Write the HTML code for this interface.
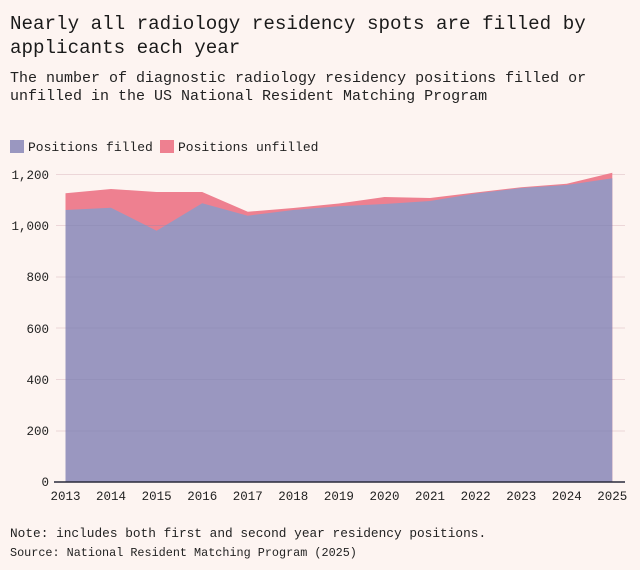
<!DOCTYPE html>
<html><head><style>
body{margin:0;background:#fdf4f1;font-family:"Liberation Mono",monospace;color:#222;}
</style></head><body>
<svg width="640" height="570" xmlns="http://www.w3.org/2000/svg" style="display:block">
<rect width="640" height="570" fill="#fdf4f1"/>
<text x="10" y="29" font-size="19.2" font-family="Liberation Mono,monospace" fill="#1a1a1a">Nearly all radiology residency spots are filled by</text>
<text x="10" y="53" font-size="19.2" font-family="Liberation Mono,monospace" fill="#1a1a1a">applicants each year</text>
<text x="10" y="82" font-size="15" font-family="Liberation Mono,monospace" fill="#222">The number of diagnostic radiology residency positions filled or</text>
<text x="10" y="100" font-size="15" font-family="Liberation Mono,monospace" fill="#222">unfilled in the US National Resident Matching Program</text>
<rect x="10" y="140" width="14" height="13" fill="#9a97c0"/>
<text x="28" y="151" font-size="13" font-family="Liberation Mono,monospace" fill="#222">Positions filled</text>
<rect x="160" y="140" width="14" height="13" fill="#ee8090"/>
<text x="178" y="151" font-size="13" font-family="Liberation Mono,monospace" fill="#222">Positions unfilled</text>
<g stroke="#ecd6d8" stroke-width="1">
<line x1="56" x2="625" y1="174.5" y2="174.5"/>
<line x1="56" x2="625" y1="225.5" y2="225.5"/>
<line x1="56" x2="625" y1="277" y2="277"/>
<line x1="56" x2="625" y1="328" y2="328"/>
<line x1="56" x2="625" y1="379.5" y2="379.5"/>
<line x1="56" x2="625" y1="431" y2="431"/>
</g>
<polygon fill="#ee8090" points="65.5,193.3 111,189 156.6,192 202.2,192 247.8,211.7 293.3,208 338.9,203.5 384.5,197 430,198 475.6,192.5 521.2,187.2 566.8,183.8 612.3,172.7 612.3,482 65.5,482"/>
<polygon fill="#9a97c0" points="65.5,210 111,207.7 156.6,230.7 202.2,203.3 247.8,215.7 293.3,210 338.9,206.3 384.5,204 430,201 475.6,193.5 521.2,188 566.8,185 612.3,178.3 612.3,482 65.5,482"/>
<g stroke="#8a86b0" stroke-opacity="0.35" stroke-width="1">
<line x1="65.5" x2="612.3" y1="225.5" y2="225.5"/>
<line x1="65.5" x2="612.3" y1="277" y2="277"/>
<line x1="65.5" x2="612.3" y1="328" y2="328"/>
<line x1="65.5" x2="612.3" y1="379.5" y2="379.5"/>
<line x1="65.5" x2="612.3" y1="431" y2="431"/>
</g>
<line x1="54" x2="625" y1="482" y2="482" stroke="#2a2a3a" stroke-width="1.5"/>
<g font-size="12.5" font-family="Liberation Mono,monospace" fill="#222" text-anchor="end">
<text x="49" y="179">1,200</text>
<text x="49" y="230">1,000</text>
<text x="49" y="281">800</text>
<text x="49" y="333">600</text>
<text x="49" y="384">400</text>
<text x="49" y="435">200</text>
<text x="49" y="486">0</text>
</g>
<g font-size="12.5" font-family="Liberation Mono,monospace" fill="#222" text-anchor="middle">
<text x="65.5" y="500">2013</text><text x="111" y="500">2014</text><text x="156.6" y="500">2015</text>
<text x="202.2" y="500">2016</text><text x="247.8" y="500">2017</text><text x="293.3" y="500">2018</text>
<text x="338.9" y="500">2019</text><text x="384.5" y="500">2020</text><text x="430" y="500">2021</text>
<text x="475.6" y="500">2022</text><text x="521.2" y="500">2023</text><text x="566.8" y="500">2024</text>
<text x="612.3" y="500">2025</text>
</g>
<text x="10" y="537" font-size="12.8" font-family="Liberation Mono,monospace" fill="#222">Note: includes both first and second year residency positions.</text>
<text x="10" y="556" font-size="11.8" font-family="Liberation Mono,monospace" fill="#222">Source: National Resident Matching Program (2025)</text>
</svg>
</body></html>
